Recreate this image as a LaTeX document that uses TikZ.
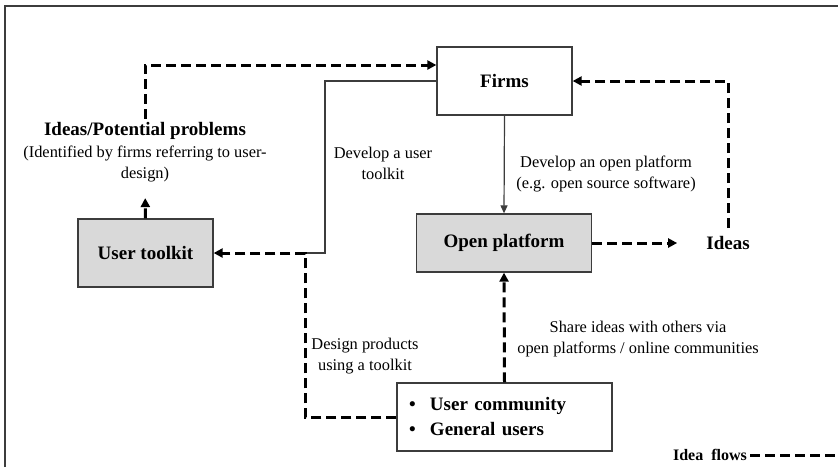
\documentclass[tikz,border=0pt]{standalone}
\usepackage{fontspec}
\setmainfont{Liberation Serif}
\usetikzlibrary{arrows.meta}
\definecolor{boxgray}{RGB}{217,217,217}
\definecolor{edgegray}{RGB}{60,60,60}
\newcommand\hdfont{\fontsize{19}{25}\selectfont\bfseries}
\newcommand\lbfont{\fontsize{16.4}{21}\selectfont}
\newcommand\lgfont{\fontsize{16}{18}\selectfont\bfseries}
\begin{document}
\begin{tikzpicture}[x=1pt,y=-1pt,
  box/.style={draw=edgegray, line width=1.3pt, inner sep=0pt, font=\hdfont, fill=white},
  greybox/.style={box, fill=boxgray},
  flowline/.style={line width=3pt, dash pattern=on 10pt off 5pt},
  flow/.style={flowline, -{Triangle[length=9pt,width=9pt]}},
  thinline/.style={draw=edgegray, line width=1.2pt},
  thinarrow/.style={thinline, -{Triangle[length=8pt,width=7pt]}},
  lbl/.style={font=\lbfont, align=center, inner sep=0pt}]
\useasboundingbox (0,0) rectangle (838,467);
\draw[edgegray, line width=1.3pt] (5,467) -- (5,6) -- (838,6);

% boxes
\node[box, minimum width=135pt, minimum height=68pt] (firms) at (504.5,81) {Firms};
\node[greybox, minimum width=135pt, minimum height=68pt] (toolkit) at (145.5,253) {User toolkit};
\node[greybox, minimum width=175pt, minimum height=58pt] (openp) at (504,243) {Open platform};
\node[box, minimum height=68pt, text width=191pt, inner xsep=12pt, align=left] (users) at (504.5,417)
  {\makebox[21pt][l]{\textbullet}User community\\\makebox[21pt][l]{\textbullet}General users};

% text nodes
\node[lbl, inner ysep=3pt] (ideasprob) at (145,152)
  {{\hdfont Ideas/Potential problems}\\[1pt](Identified by firms referring to user-\\design)};
\node[font=\hdfont, inner sep=3pt] (ideas) at (728,243) {Ideas};

\node[lbl] (lbltoolkit) at (383,163) {Develop a user\\toolkit};
\node[lbl] (lblopen) at (606,174) {Develop an open platform\\(e.g. open source software)};
\node[lbl] (lblshare) at (638,339) {Share ideas with others via\\open platforms / online communities};
\node[lbl] (lbldesign) at (365,356) {Design products\\using a toolkit};

% legend
\node[font=\lgfont, inner sep=3pt] (legend) at (710,455) {Idea\ \ flows};
\coordinate (legendend) at (838,455);
\draw[flowline] (legend.east) -- (legendend);

% connectors
\coordinate (junction) at (305,253);
\coordinate (bend) at (325,253);
\draw[thinline] (firms.west) -| (bend) -- (junction);
\draw[thinarrow] (firms.south) -- (openp.north);
\draw[flow] (users.west) -| (junction) -- (toolkit.east);
\draw[flow, shorten >=13pt] (toolkit.north) -- (ideasprob.south);
\draw[flow] (ideasprob.north) |- ([yshift=16pt]firms.west);
\draw[flow, shorten >=26pt] (openp.east) -- (ideas.west);
\draw[flow, shorten <=5pt] (ideas.north) |- (firms.east);
\draw[flow] (users.north) -- (openp.south);
\end{tikzpicture}
\end{document}
